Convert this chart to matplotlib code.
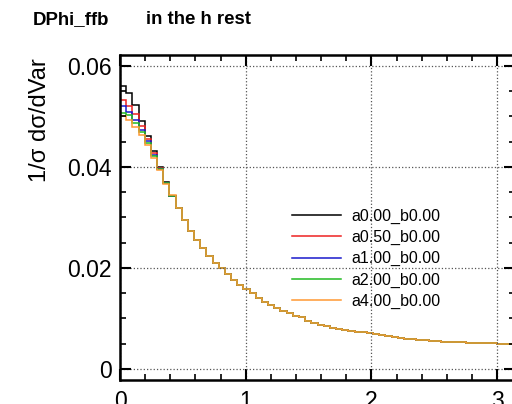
import numpy as np
import matplotlib
matplotlib.use("Agg")
import matplotlib.pyplot as plt
from matplotlib.ticker import MultipleLocator

plt.rcParams["font.family"] = ["Liberation Sans", "DejaVu Sans"]

# 64 bins between 0 and pi
n_bins = 64
x_min, x_max = 0.0, np.pi

labels = ["a0.00_b0.00", "a0.50_b0.00", "a1.00_b0.00", "a2.00_b0.00", "a4.00_b0.00"]
colors = ["black", "#ee2222", "#1a1acc", "#22bb22", "#ff9933"]

# first bins, where the samples differ
head_a000 = [0.0561, 0.0546, 0.0523, 0.0491, 0.0462, 0.0432, 0.0400, 0.0370, 0.0343]
head_a050 = [0.0533, 0.0520, 0.0505, 0.0482, 0.0456, 0.0428, 0.0398, 0.0369, 0.0343]
head_a100 = [0.0520, 0.0509, 0.0494, 0.0474, 0.0451, 0.0424, 0.0397, 0.0368, 0.0343]
head_a200 = [0.0507, 0.0502, 0.0488, 0.0469, 0.0447, 0.0421, 0.0396, 0.0368, 0.0343]
head_a400 = [0.0500, 0.0493, 0.0480, 0.0464, 0.0443, 0.0418, 0.0395, 0.0367, 0.0344]

# remaining bins, almost identical for all samples
tail = [0.0318, 0.0295, 0.0274, 0.0256, 0.0240, 0.0224, 0.0210, 0.0199,
        0.0188, 0.0176, 0.0166, 0.0158, 0.0150, 0.0141, 0.0133, 0.0127,
        0.0121, 0.0115, 0.0111, 0.0105, 0.0102, 0.0095, 0.0092, 0.0088,
        0.0085, 0.0082, 0.0080, 0.0077, 0.0075, 0.0074, 0.0073, 0.0071,
        0.0069, 0.0067, 0.0065, 0.0063, 0.0061, 0.0060, 0.0059, 0.0058,
        0.0057, 0.0056, 0.0055, 0.0054, 0.0054, 0.0053, 0.0053, 0.0052,
        0.0052, 0.0051, 0.0051, 0.0051, 0.0050, 0.0050, 0.0050]

heads = [head_a000, head_a050, head_a100, head_a200, head_a400]

fig = plt.figure(figsize=(5.12, 4.04), dpi=100)
ax = fig.add_axes([0.2344, 0.0594, 0.7715, 0.8045])

edges = np.linspace(x_min, x_max, n_bins + 1)
y_lo, y_hi = -0.00218, 0.06218
for head, lab, col in zip(heads, labels, colors):
    ax.stairs(head + tail, edges, baseline=y_lo, color=col, lw=1.1, label=lab)

ax.set_xlim(x_min, x_max)
ax.set_ylim(y_lo, y_hi)

ax.xaxis.set_major_locator(MultipleLocator(1))
ax.xaxis.set_minor_locator(MultipleLocator(0.2))
ax.yaxis.set_major_locator(MultipleLocator(0.02))
ax.yaxis.set_minor_locator(MultipleLocator(0.005))
ax.set_yticks([0, 0.02, 0.04, 0.06])
ax.set_yticklabels(["0", "0.02", "0.04", "0.06"])

ax.tick_params(which="both", direction="in", top=True, right=True, labelsize=16.5)
ax.tick_params(which="major", length=8, width=1.5)
ax.tick_params(which="minor", length=4, width=1.2)
ax.tick_params(axis="x", pad=7)
ax.tick_params(axis="y", pad=6)
for sp in ax.spines.values():
    sp.set_linewidth(1.8)

ax.grid(True, which="major", ls=":", color="#555555", lw=0.9)

ax.legend(loc="upper left", bbox_to_anchor=(0.418, 0.547), frameon=False,
          fontsize=11.5, handlelength=3.1, handletextpad=0.65,
          labelspacing=0.39, borderaxespad=0)

fig.text(33 / 512, 1 - 20 / 404, "DPhi_ffb", fontsize=13.4, fontweight="bold",
         ha="left", va="center")
fig.text(146 / 512, 1 - 20 / 404, "in the h rest", fontsize=13.4, fontweight="bold",
         ha="left", va="center")
fig.text(40 / 512, 1 - 120 / 404, "1/σ dσ/dVar", fontsize=17, rotation=90,
         ha="center", va="center")

fig.savefig("out.png", dpi=100)
